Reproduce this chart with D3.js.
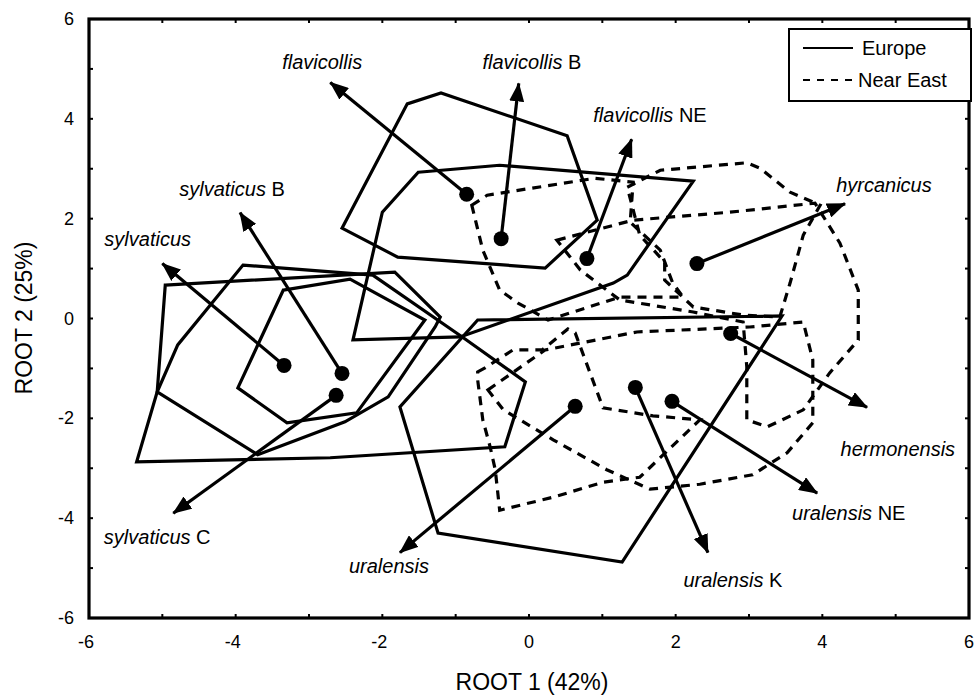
<!DOCTYPE html>
<html>
<head>
<meta charset="utf-8">
<script src="https://cdn.jsdelivr.net/npm/d3@7"></script>
<style>
  html, body { margin: 0; padding: 0; background: #fff; }
  svg { display: block; font-family: "Liberation Sans", Arial, sans-serif; }
</style>
</head>
<body>
<svg id="chart" width="975" height="698"></svg>
<script>
// Discriminant function scores: group centroids, vectors and convex hulls

const xTicks = [-6, -4, -2, 0, 2, 4, 6];
const yTicks = [-6, -4, -2, 0, 2, 4, 6];

// group names, split into italic species part and plain suffix
const groupNames = [
  ["flavicollis", ""], ["flavicollis", " B"], ["flavicollis", " NE"], ["hyrcanicus", ""],
  ["sylvaticus", ""], ["sylvaticus", " B"], ["sylvaticus", " C"], ["hermonensis", ""],
  ["uralensis", ""], ["uralensis", " K"], ["uralensis", " NE"]
];
// centroid positions (ROOT 1, ROOT 2)
const centroids = [
  [-0.85, 2.49], [-0.38, 1.60], [0.79, 1.20], [2.29, 1.10],
  [-3.34, -0.94], [-2.55, -1.10], [-2.63, -1.54], [2.75, -0.30],
  [0.63, -1.76], [1.45, -1.38], [1.95, -1.66]
];
// arrow tips
const vectorTips = [
  [-2.71, 4.73], [-0.14, 4.71], [1.40, 3.59], [4.31, 2.30],
  [-5.00, 1.10], [-3.94, 2.12], [-4.85, -3.90], [4.61, -1.78],
  [-1.76, -4.69], [2.44, -4.69], [3.93, -3.50]
];
// label centres
const labelPos = [
  [-2.82, 5.14], [0.04, 5.14], [1.65, 4.08], [4.84, 2.67],
  [-5.20, 1.59], [-4.05, 2.59], [-5.07, -4.38], [5.03, -2.61],
  [-1.91, -4.96], [2.78, -5.24], [4.36, -3.90]
];

// Europe hulls
const europeHulls = [
  [[-2.55, 1.81], [-1.66, 4.30], [-1.20, 4.52], [0.52, 3.66], [0.93, 1.97], [0.22, 1.01], [-1.79, 1.23]],
  [[-1.51, 2.93], [-0.40, 3.07], [2.24, 2.75], [1.34, 0.87], [1.15, 0.71], [-0.94, -0.37], [-2.40, -0.43], [-2.00, 2.13]],
  [[-4.96, 0.67], [-1.83, 0.93], [-1.21, 0.03], [-1.28, -0.17], [-1.92, -1.57], [-2.51, -2.07], [-3.70, -2.73], [-5.07, -1.47]],
  [[-3.90, 1.07], [-2.13, 0.87], [-0.91, -0.37], [-0.05, -1.27], [-0.33, -2.57], [-2.71, -2.79], [-5.35, -2.87], [-5.07, -1.47], [-4.79, -0.53]],
  [[-3.35, 0.57], [-2.44, 0.79], [-1.42, -0.03], [-2.35, -1.89], [-3.30, -2.09], [-3.97, -1.39]],
  [[-0.70, -0.03], [3.45, 0.05], [1.27, -4.88], [-1.24, -4.30], [-1.76, -1.77]]
];

// Near East hulls
const nearEastHulls = [
  [[-0.78, 2.27], [-0.57, 2.47], [0.90, 2.81], [1.42, 2.73], [1.38, 1.93], [1.79, 1.37], [1.96, 0.71], [2.10, 0.43], [1.24, 0.43], [0.26, -0.03], [-0.15, 0.31], [-0.40, 0.57], [-0.63, 1.37]],
  [[1.34, 2.63], [1.79, 2.97], [2.97, 3.12], [3.15, 3.01], [3.56, 2.53], [3.97, 2.27], [3.74, 1.67], [3.56, 0.71], [3.42, 0.03], [2.92, 0.07], [2.24, 0.23], [1.85, 0.77], [1.85, 1.13], [1.51, 1.67]],
  [[0.38, 1.57], [1.42, 1.97], [2.74, 2.13], [3.90, 2.31], [4.24, 1.51], [4.49, 0.57], [4.49, -0.43], [4.10, -1.09], [3.74, -1.83], [3.25, -2.17], [2.97, -2.03], [2.97, -0.97], [2.92, -0.07], [2.24, 0.13], [1.24, 0.37], [0.70, 0.97]],
  [[-0.56, -1.43], [0.22, -0.63], [1.47, -0.27], [3.01, -0.17], [3.74, -0.07], [3.87, -0.83], [3.87, -2.09], [3.52, -2.69], [3.05, -3.13], [2.33, -3.32], [1.65, -3.42], [1.06, -3.03], [0.33, -2.43], [-0.35, -1.83]],
  [[-0.70, -1.07], [-0.60, -0.99], [-0.22, -0.63], [0.18, -0.63], [0.53, -0.21], [0.63, -0.29], [1.01, -1.79], [1.69, -1.95], [2.33, -2.03], [1.51, -3.18], [1.01, -3.28], [0.33, -3.58], [-0.40, -3.84], [-0.46, -3.03], [-0.53, -2.57], [-0.63, -2.03], [-0.70, -1.23]]
];

const legendItems = ["Europe", "Near East"];

const svg = d3.select("#chart");
const x = d3.scaleLinear().domain([-6, 6]).range([89, 969]);
const y = d3.scaleLinear().domain([-6, 6]).range([618, 19]);

const lw = 3.2;
const dash = "9,7";

const hullLine = d3.line().x(d => x(d[0])).y(d => y(d[1])).curve(d3.curveLinearClosed);

// hulls
svg.append("g").selectAll("path").data(europeHulls).join("path")
  .attr("d", hullLine).attr("fill", "none").attr("stroke", "#000")
  .attr("stroke-width", lw).attr("stroke-linejoin", "miter");
svg.append("g").selectAll("path").data(nearEastHulls).join("path")
  .attr("d", hullLine).attr("fill", "none").attr("stroke", "#000")
  .attr("stroke-width", lw).attr("stroke-dasharray", dash);

// arrowhead
svg.append("defs").append("marker")
  .attr("id", "head").attr("markerUnits", "userSpaceOnUse")
  .attr("viewBox", "0 0 19 15").attr("markerWidth", 19).attr("markerHeight", 15)
  .attr("refX", 18).attr("refY", 7.5).attr("orient", "auto")
  .append("path").attr("d", "M0,0 L19,7.5 L0,15 Z").attr("fill", "#000");

// vectors
const groups = centroids.map((c, i) => ({ c, t: vectorTips[i], name: groupNames[i], lp: labelPos[i] }));
svg.append("g").selectAll("line").data(groups).join("line")
  .attr("x1", d => x(d.c[0])).attr("y1", d => y(d.c[1]))
  .attr("x2", d => x(d.t[0])).attr("y2", d => y(d.t[1]))
  .attr("stroke", "#000").attr("stroke-width", lw)
  .attr("marker-end", "url(#head)");

// centroids
svg.append("g").selectAll("circle").data(groups).join("circle")
  .attr("cx", d => x(d.c[0])).attr("cy", d => y(d.c[1])).attr("r", 7.5).attr("fill", "#000");

// labels
const lab = svg.append("g").selectAll("text").data(groups).join("text")
  .attr("x", d => x(d.lp[0])).attr("y", d => y(d.lp[1]))
  .attr("text-anchor", "middle").attr("dominant-baseline", "central")
  .attr("font-size", 20).attr("fill", "#000");
lab.append("tspan").attr("font-style", "italic").text(d => d.name[0]);
lab.append("tspan").text(d => d.name[1]);

// frame
svg.append("rect")
  .attr("x", x(-6)).attr("y", y(6)).attr("width", x(6) - x(-6)).attr("height", y(-6) - y(6))
  .attr("fill", "none").attr("stroke", "#000").attr("stroke-width", lw);

// inner ticks at every unit
const units = d3.range(-5, 6);
const tk = svg.append("g").attr("stroke", "#000").attr("stroke-width", 2);
units.forEach(v => {
  tk.append("line").attr("x1", x(v)).attr("x2", x(v)).attr("y1", y(-6)).attr("y2", y(-6) - 4);
  tk.append("line").attr("x1", x(v)).attr("x2", x(v)).attr("y1", y(6)).attr("y2", y(6) + 4);
  tk.append("line").attr("y1", y(v)).attr("y2", y(v)).attr("x1", x(-6)).attr("x2", x(-6) + 4);
  tk.append("line").attr("y1", y(v)).attr("y2", y(v)).attr("x1", x(6)).attr("x2", x(6) - 4);
});

// tick labels
svg.append("g").selectAll("text").data(xTicks).join("text")
  .attr("x", d => x(d) - (d < 0 ? 3 : 0)).attr("y", 642)
  .attr("text-anchor", "middle").attr("dominant-baseline", "central")
  .attr("font-size", 18).text(d => d);
svg.append("g").selectAll("text").data(yTicks).join("text")
  .attr("x", 74).attr("y", d => y(d))
  .attr("text-anchor", "end").attr("dominant-baseline", "central")
  .attr("font-size", 18).text(d => d);

// axis titles
svg.append("text").attr("x", 532).attr("y", 682)
  .attr("text-anchor", "middle").attr("dominant-baseline", "central")
  .attr("font-size", 23).text("ROOT 1 (42%)");
svg.append("text").attr("transform", "translate(24,318) rotate(-90)")
  .attr("text-anchor", "middle").attr("dominant-baseline", "central")
  .attr("font-size", 23).text("ROOT 2 (25%)");

// legend
const lg = svg.append("g");
lg.append("rect").attr("x", 789).attr("y", 29).attr("width", 182).attr("height", 72)
  .attr("fill", "#fff").attr("stroke", "#000").attr("stroke-width", 2);
legendItems.forEach((name, i) => {
  const cy = 48 + i * 32;
  lg.append("line").attr("x1", 803).attr("x2", 853).attr("y1", cy).attr("y2", cy)
    .attr("stroke", "#000").attr("stroke-width", 2)
    .attr("stroke-dasharray", i === 1 ? "7,7" : null);
  lg.append("text").attr("x", i === 1 ? 858 : 862).attr("y", cy)
    .attr("dominant-baseline", "central").attr("font-size", 20).text(name);
});
</script>
</body>
</html>
